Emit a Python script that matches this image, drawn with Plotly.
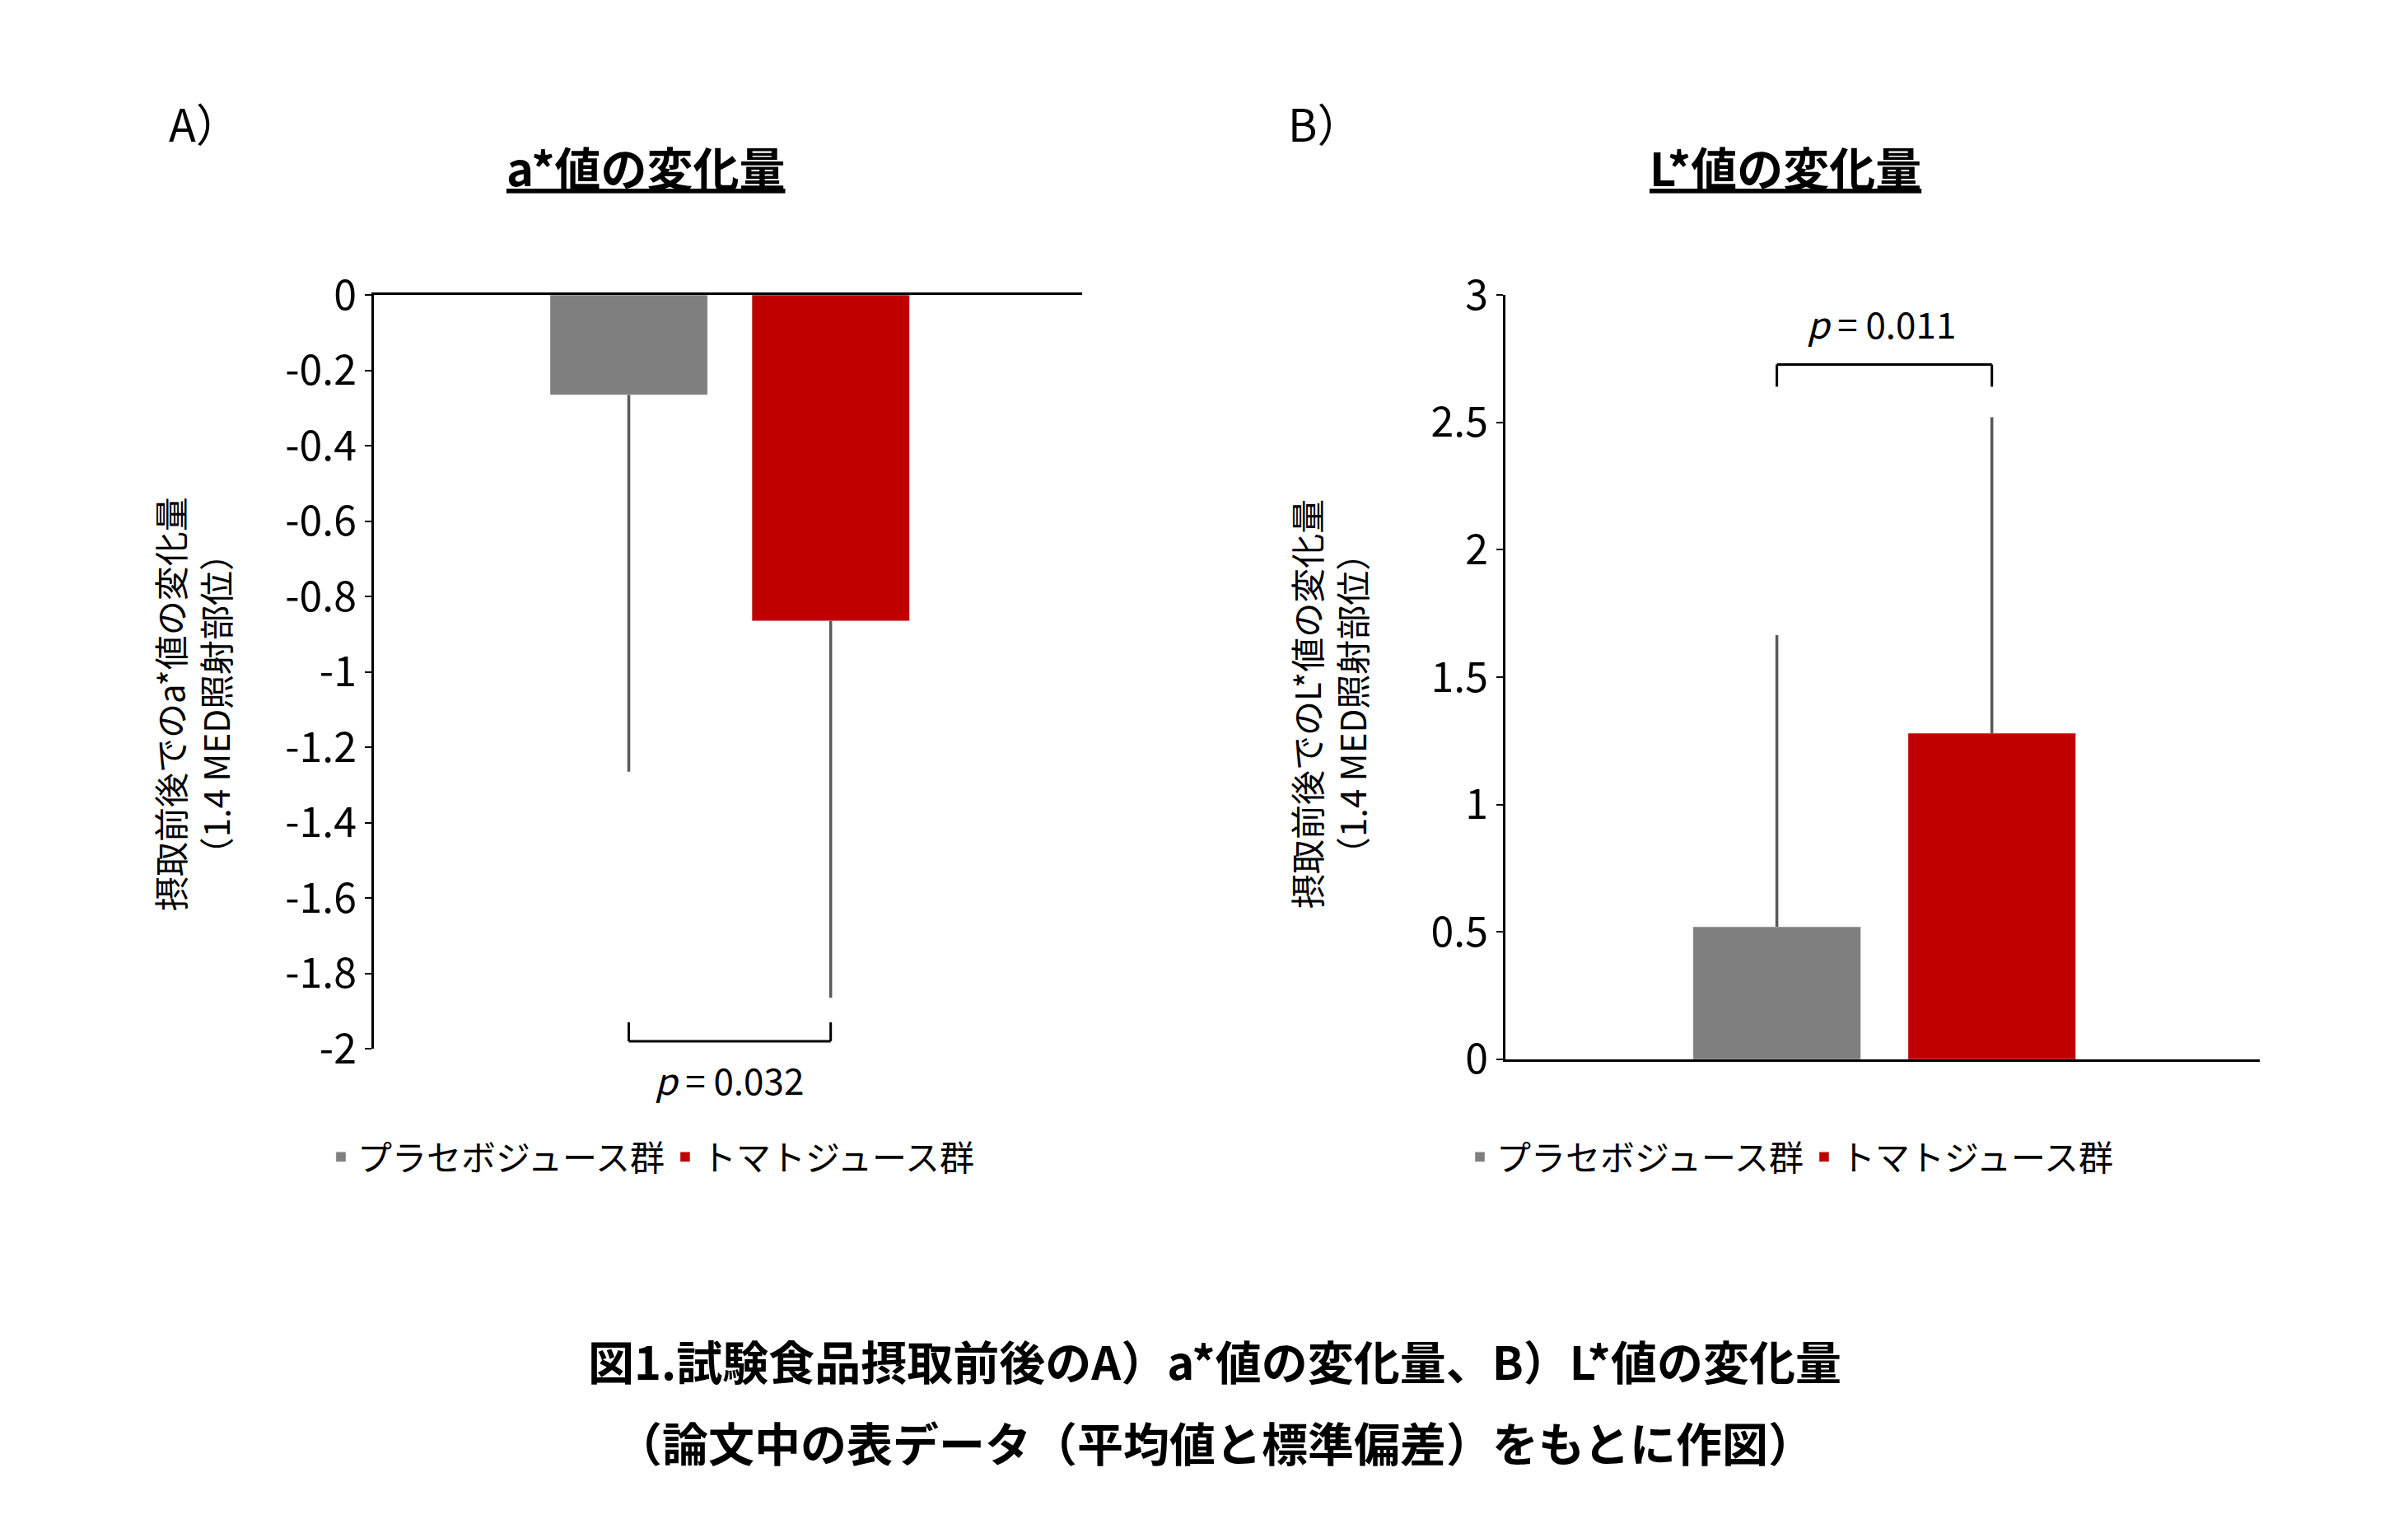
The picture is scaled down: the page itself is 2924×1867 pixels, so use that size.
import plotly.graph_objects as go

groups = ["プラセボジュース群", "トマトジュース群"]
a_mean = [-0.265, -0.865]
a_sd = [1.0, 1.0]
l_mean = [0.52, 1.28]
l_sd = [1.145, 1.24]
colors = ["#7F7F7F", "#C00000"]
a_ticks = [0, -0.2, -0.4, -0.6, -0.8, -1, -1.2, -1.4, -1.6, -1.8, -2]
a_text = ["0", "-0.2", "-0.4", "-0.6", "-0.8", "-1", "-1.2", "-1.4", "-1.6", "-1.8", "-2"]
l_ticks = [0, 0.5, 1, 1.5, 2, 2.5, 3]

F = "Noto Sans CJK JP"
fig = go.Figure()
for i, g in enumerate(groups):
    fig.add_trace(go.Bar(x=[g], y=[a_mean[i]], marker_color=colors[i], name=g,
                         error_y=dict(type="data", symmetric=False, array=[0], arrayminus=[a_sd[i]],
                                      color="#595959", thickness=3.5, width=0),
                         xaxis="x", yaxis="y", legend="legend"))
    fig.add_trace(go.Bar(x=[g], y=[l_mean[i]], marker_color=colors[i], name=g,
                         error_y=dict(type="data", symmetric=False, array=[l_sd[i]], arrayminus=[0],
                                      color="#595959", thickness=3.5, width=0),
                         xaxis="x2", yaxis="y2", legend="legend2"))

ax = dict(showline=True, linecolor="black", linewidth=3, showticklabels=False, ticks="",
          showgrid=False, zeroline=False, range=[-1.263, 2.246], fixedrange=True)
ay = dict(showline=True, linecolor="black", linewidth=3, ticks="outside", ticklen=8, tickwidth=2,
          tickcolor="black", showgrid=False, zeroline=False, tickfont=dict(size=50, family=F, color="black"))
fig.update_layout(
    width=2924, height=1867, margin=dict(l=0, r=0, t=0, b=0, autoexpand=False),
    plot_bgcolor="white", paper_bgcolor="white",
    bargap=0.22, font=dict(family=F, color="black"),
    xaxis=dict(ax, domain=[0.1525, 0.4467], anchor="y", side="top"),
    yaxis=dict(ay, domain=[0.3224, 0.8125], range=[-2, 0], tickvals=a_ticks, ticktext=a_text, anchor="x"),
    xaxis2=dict(ax, domain=[0.6224, 0.9357], anchor="y2"),
    yaxis2=dict(ay, domain=[0.3155, 0.8125], range=[0, 3], tickvals=l_ticks, anchor="x2"),
    legend=dict(orientation="h", x=0.132, y=0.252, yanchor="middle", font=dict(size=42, family=F)),
    legend2=dict(orientation="h", x=0.605, y=0.252, yanchor="middle", font=dict(size=42, family=F)),
)
for xr, yr, y0, y1 in [("x", "y", -1.93, -1.98), ("x2", "y2", 2.64, 2.727)]:
    fig.add_shape(type="line", xref=xr, yref=yr, x0=0, x1=0, y0=y0, y1=y1, line=dict(color="black", width=3))
    fig.add_shape(type="line", xref=xr, yref=yr, x0=1, x1=1, y0=y0, y1=y1, line=dict(color="black", width=3))
    fig.add_shape(type="line", xref=xr, yref=yr, x0=0, x1=1, y0=y1, y1=y1, line=dict(color="black", width=3))

ann = [
    (877, 1302, "<i>p</i> = 0.032", 44),
    (2276, 384, "<i>p</i> = 0.011", 44),
    (776, 193, "<b><u>a*値の変化量</u></b>", 56),
    (2160, 193, "<b><u>L*値の変化量</u></b>", 56),
    (240, 140, "A）", 54),
    (1600, 140, "B）", 54),
    (1467, 1642, "<b>図1.試験食品摂取前後のA）a*値の変化量、B）L*値の変化量</b>", 56),
    (1467, 1741, "<b>（論文中の表データ（平均値と標準偏差）をもとに作図）</b>", 56),
]
for x, y, t, s in ann:
    fig.add_annotation(xref="paper", yref="paper", x=x / 2924, y=1 - y / 1867, text=t, showarrow=False,
                       xanchor="center", yanchor="middle", font=dict(size=s, family=F, color="black"))
for x, t in [(225, "摂取前後でのa*値の変化量<br>（1.4 MED照射部位）"), (1605, "摂取前後でのL*値の変化量<br>（1.4 MED照射部位）")]:
    fig.add_annotation(xref="paper", yref="paper", x=x / 2924, y=1 - 847 / 1867, text=t, showarrow=False,
                       xanchor="center", yanchor="middle",
                       textangle=-90, font=dict(size=42, family=F, color="black"))
fig.write_html("out.html")
